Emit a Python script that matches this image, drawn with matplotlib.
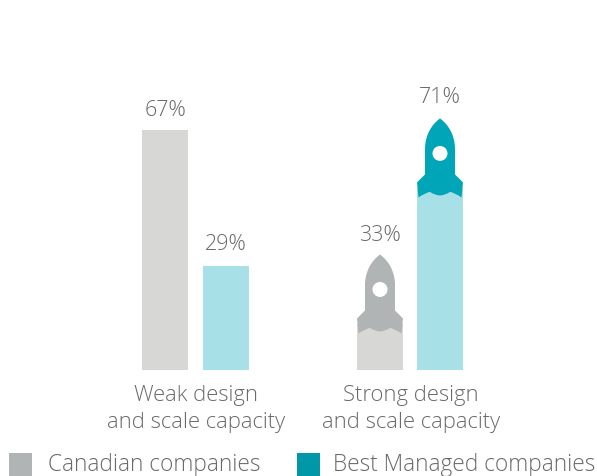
import matplotlib
matplotlib.use('Agg')
import matplotlib.pyplot as plt
from matplotlib.path import Path
from matplotlib.patches import PathPatch, Ellipse, Rectangle

plt.rcParams['font.family'] = ['Open Sans', 'DejaVu Sans']

# data
groups = ['Weak design\nand scale capacity', 'Strong design\nand scale capacity']
series = ['Canadian companies', 'Best Managed companies']
canadian = [67, 33]
best_managed = [29, 71]

# styles
TEXT = '#68696b'
PALE = ['#d7d7d5', '#a8e0e8']
DARK = ['#b1b4b5', '#00a5b8']
LEGEND = ['#b1b4b5', '#0097a9']

W, H = 597, 477
BASE = 370.6    # baseline, px from top
S = 3.58      # px per percent

fig = plt.figure(figsize=(W / 100, H / 100), dpi=100)
ax = fig.add_axes([0, 0, 1, 1])
ax.set_xlim(0, W)
ax.set_ylim(-(H - BASE) / S, BASE / S)
ax.axis('off')

bar_x = [[165, 380], [226, 440]]
bar_w = 46
label_off = [[20.5, 17], [22.5, 19]]    # px above the value


def rocket(cx, top):
    # outline in px relative to the nose, y going down
    steps = [
        (Path.MOVETO, [(0, 0)]),
        (Path.CURVE4, [(-8, 6), (-15, 16), (-15, 31)]),
        (Path.LINETO, [(-15, 56)]),
        (Path.LINETO, [(-23, 64)]),
        (Path.LINETO, [(-21.5, 79)]),
        (Path.CURVE3, [(-14, 74), (-10, 73.5)]),
        (Path.CURVE3, [(-5, 77), (0, 77)]),
        (Path.CURVE3, [(5, 77), (10, 73.5)]),
        (Path.CURVE3, [(14, 74), (21.5, 79)]),
        (Path.LINETO, [(23, 64)]),
        (Path.LINETO, [(15, 56)]),
        (Path.LINETO, [(15, 31)]),
        (Path.CURVE4, [(15, 16), (8, 6), (0, 0)]),
    ]
    pts, codes = [], []
    for code, ps in steps:
        for x, y in ps:
            pts.append((cx + x, top - y / S))
            codes.append(code)
    return Path(pts, codes)


for i, vals in enumerate([canadian, best_managed]):
    for j, v in enumerate(vals):
        cx = bar_x[i][j]
        if j == 0:
            ax.bar(cx, v, width=bar_w, color=PALE[i], linewidth=0)
        else:
            # rocket sits on the bar, nose marks the value
            top = v - 3 / S
            ax.bar(cx, top - 70 / S, width=bar_w, color=PALE[i], linewidth=0)
            ax.add_patch(PathPatch(rocket(cx, top), facecolor=DARK[i], edgecolor='none'))
            ax.add_patch(Ellipse((cx, top - 35 / S), 15, 15 / S, facecolor='white', edgecolor='none'))
        ax.text(cx, v + label_off[i][j] / S, '%d%%' % v, ha='center', va='center', fontsize=15.5,
                color=TEXT, fontweight='light')

label_x = [196, 411]
for x, g in zip(label_x, groups):
    a, b = g.split('\n')
    ax.text(x, -24.5 / S, a, ha='center', va='center', fontsize=15.8, color=TEXT, fontweight='light')
    ax.text(x, -51.5 / S, b, ha='center', va='center', fontsize=15.8, color=TEXT, fontweight='light')

# legend
legend_x = [9, 297]
legend_text_x = [48, 333]
for k, name in enumerate(series):
    ax.add_patch(Rectangle((legend_x[k], -(H - BASE) / S), 23, 23 / S, facecolor=LEGEND[k], edgecolor='none'))
    ax.text(legend_text_x[k], -94.5 / S, name, ha='left', va='center', fontsize=16.3, color=TEXT, fontweight='light')

fig.savefig('out.png', dpi=100)
